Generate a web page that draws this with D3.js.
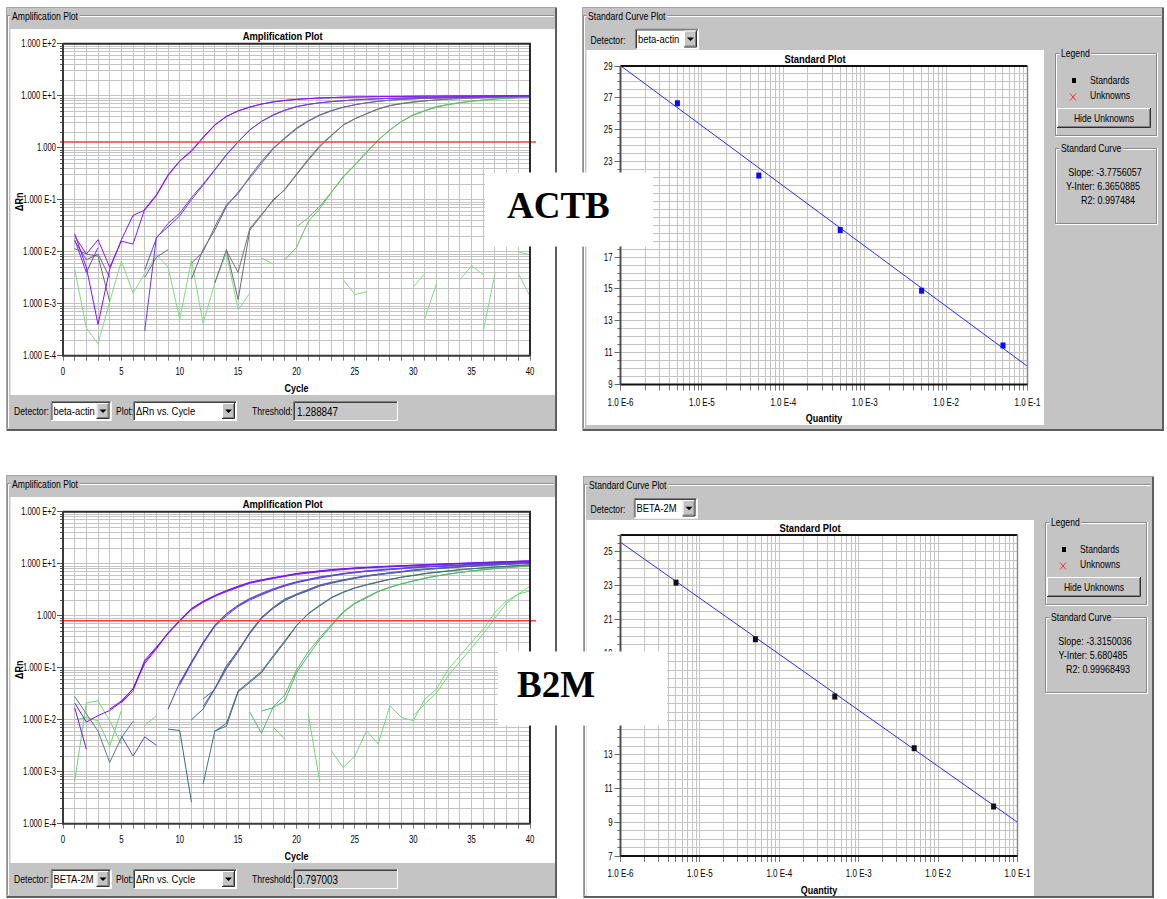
<!DOCTYPE html>
<html>
<head>
<meta charset="utf-8">
<title>ACTB and B2M real-time PCR: amplification plots and standard curves</title>
<script src="https://cdnjs.cloudflare.com/ajax/libs/d3/7.8.5/d3.min.js"></script>
<style>
  html, body { margin: 0; padding: 0; background: #ffffff; }
  svg { display: block; }
  text { font-family: "Liberation Sans", Arial, sans-serif; fill: #000; }
</style>
</head>
<body>
<svg id="figure" width="1167" height="899"></svg>
<script>
const _ = null;

// ---------- axes ----------
const cycleTicks = [0, 5, 10, 15, 20, 25, 30, 35, 40];
const deltaRnDecades = [1e-4, 1e-3, 1e-2, 1e-1, 1, 1e1, 1e2];
const deltaRnLabels = ["1.000 E-4", "1.000 E-3", "1.000 E-2", "1.000 E-1", "1.000", "1.000 E+1", "1.000 E+2"];
const quantityDecades = [1e-6, 1e-5, 1e-4, 1e-3, 1e-2, 1e-1];
const quantityLabels = ["1.0 E-6", "1.0 E-5", "1.0 E-4", "1.0 E-3", "1.0 E-2", "1.0 E-1"];
const actbCtRange = [9, 29];
const actbCtTicks = [9, 11, 13, 15, 17, 19, 21, 23, 25, 27, 29];
const b2mCtRange = [7, 26];
const b2mCtTicks = [7, 9, 11, 13, 15, 17, 19, 21, 23, 25];

// ---------- run settings ----------
const actbDetector = "beta-actin";
const b2mDetector = "BETA-2M";
const actbThreshold = 1.288847;
const b2mThreshold = 0.797003;

// ---------- standard curves ----------
const standardQuantity = [5e-6, 5e-5, 5e-4, 5e-3, 5e-2];
const actbStandardCt = [26.66, 22.12, 18.70, 14.89, 11.45];
const b2mStandardCt = [23.18, 19.83, 16.44, 13.38, 9.93];
const actbSlope = -3.7756057, actbIntercept = 6.3650885, actbR2 = 0.997484;
const b2mSlope = -3.3150036, b2mIntercept = 5.680485, b2mR2 = 0.99968493;

// ---------- ACTB amplification, delta Rn for cycles 1..40 (null = not plotted) ----------
const actbStd1a = [0.022,0.005,0.0004,0.0046,0.017,0.05,0.063,0.12,0.29,0.55,
  0.85,1.55,2.7,4.0,5.1,6.1,6.9,7.6,8.1,8.5,
  8.8,9.0,9.2,9.3,9.4,9.5,9.6,9.6,9.7,9.7,
  9.8,9.8,9.8,9.9,9.9,9.9,9.9,10.0,10.0,10.0];
const actbStd1b = [0.020,0.009,0.017,0.005,0.016,0.014,0.066,0.125,0.30,0.56,
  0.88,1.6,2.75,4.0,5.1,6.0,6.9,7.6,8.1,8.5,
  8.8,9.1,9.2,9.4,9.5,9.5,9.6,9.7,9.7,9.8,
  9.8,9.8,9.9,9.9,9.9,10.0,10.0,10.0,10.1,10.1];
const actbStd2a = [0.017,0.004,0.012,_,_,_,0.0003,0.019,0.03,0.049,
  0.10,0.19,0.37,0.72,1.29,2.2,3.2,4.3,5.3,6.2,
  6.8,7.3,7.7,8.0,8.3,8.5,8.7,8.9,9.0,9.1,
  9.2,9.3,9.4,9.5,9.6,9.6,9.7,9.7,9.8,9.8];
const actbStd2b = [_,_,_,_,_,_,0.0045,0.018,0.035,0.055,
  0.11,0.2,0.38,0.74,1.3,2.2,3.2,4.2,5.2,6.1,
  6.8,7.3,7.7,8.0,8.3,8.5,8.7,8.9,9.0,9.1,
  9.2,9.3,9.4,9.5,9.6,9.6,9.7,9.7,9.8,9.9];
const actbStd3a = [0.016,0.007,0.009,0.0032,_,_,_,_,_,_,
  0.003,0.011,0.026,0.074,0.14,0.26,0.5,0.95,1.5,2.3,
  3.2,4.2,5.1,6.0,6.7,7.3,7.8,8.2,8.5,8.7,
  8.9,9.0,9.2,9.3,9.3,9.4,9.5,9.6,9.7,9.8];
const actbStd3b = [_,_,_,_,_,_,0.0032,0.0078,0.011,_,
  0.006,0.010,0.03,0.08,0.13,0.28,0.55,0.98,1.55,2.4,
  3.3,4.3,5.2,6.0,6.7,7.3,7.8,8.2,8.5,8.7,
  8.9,9.0,9.2,9.3,9.4,9.5,9.6,9.7,9.7,9.8];
const actbStd4a = [0.0115,0.009,0.0082,0.0011,_,_,_,_,_,_,
  _,_,0.0025,0.011,0.0012,0.026,0.05,0.1,0.155,0.3,
  0.57,1.05,1.7,2.75,3.6,4.5,5.6,6.5,7.1,7.6,
  8.0,8.3,8.6,8.8,9.0,9.2,9.3,9.4,9.5,9.6];
const actbStd4b = [_,_,_,_,_,_,_,_,_,_,
  _,_,_,0.0105,0.004,0.028,0.052,0.095,0.16,0.31,
  0.6,1.1,1.75,2.7,3.6,4.5,5.5,6.4,7.0,7.5,
  7.9,8.3,8.6,8.8,9.0,9.2,9.3,9.4,9.5,9.6];
const actbStd5a = [_,_,_,_,_,_,_,_,_,_,
  _,_,_,_,_,_,_,_,0.007,0.012,
  0.038,0.068,0.14,0.28,0.47,0.83,1.41,2.2,3.2,4.3,
  5.2,6.2,6.8,7.4,7.9,8.3,8.7,9.0,9.2,9.4];
const actbStd5b = [_,_,_,_,_,_,_,_,_,_,
  _,_,_,_,_,_,_,_,_,0.03,
  0.045,0.075,0.14,0.27,0.46,0.8,1.4,2.2,3.2,4.2,
  5.1,6.0,6.7,7.3,7.8,8.2,8.6,8.9,9.2,9.4];
const actbNtc1 = [0.0046,0.00034,0.00017,0.0011,0.0066,0.0016,0.0038,0.0087,0.0051,0.0005,
  0.0069,0.00042,0.0025,0.0093,0.00076,0.0016,_,_,_,_,
  _,_,_,_,_,_,_,_,_,_,
  _,_,_,_,_,_,_,_,_,_];
const actbNtc2 = [_,_,_,_,_,_,_,_,_,_,
  _,_,_,_,_,_,0.0076,0.0058,_,_,
  _,_,_,0.0029,0.0015,0.0017,_,_,_,0.0021,
  0.0038,_,_,0.0029,0.0054,0.0036,_,_,0.0038,0.0014];
const actbNtc3 = [_,_,_,_,_,_,_,_,_,_,
  _,_,_,_,_,_,_,_,_,_,
  _,_,_,_,_,_,_,_,_,_,
  0.00052,0.0025,_,_,_,0.0003,0.0038,_,0.01,0.0087];

// ---------- B2M amplification, delta Rn for cycles 1..40 ----------
const b2mStd1a = [0.017,0.0027,_,0.016,0.023,0.039,0.12,0.23,0.46,0.8,
  1.35,1.85,2.4,3.0,3.6,4.3,4.8,5.3,5.8,6.4,
  6.8,7.2,7.6,7.9,8.2,8.4,8.7,8.9,9.1,9.3,
  9.5,9.7,9.9,10.1,10.3,10.5,10.7,10.9,11.1,11.3];
const b2mStd1b = [_,_,_,_,0.021,0.036,0.14,0.25,0.45,0.78,
  1.3,1.8,2.35,2.9,3.5,4.2,4.7,5.2,5.7,6.2,
  6.6,7.0,7.4,7.7,8.0,8.3,8.5,8.7,8.9,9.1,
  9.3,9.5,9.7,9.9,10.1,10.3,10.5,10.7,10.9,11.0];
const b2mStd1c = [0.021,0.009,0.012,0.015,0.022,0.04,0.13,0.24,0.47,0.82,
  1.38,1.9,2.45,3.05,3.7,4.4,4.9,5.4,5.9,6.5,
  6.9,7.3,7.7,8.0,8.3,8.5,8.8,9.0,9.2,9.4,
  9.6,9.8,10.0,10.2,10.4,10.6,10.8,11.0,11.2,11.4];
const b2mStd2a = [_,_,_,_,_,_,_,_,0.016,0.052,
  0.126,0.31,0.64,1.07,1.55,2.1,2.6,3.2,3.8,4.4,
  4.9,5.5,5.9,6.4,6.8,7.2,7.5,7.8,8.1,8.5,
  8.7,8.9,9.1,9.3,9.7,9.9,10.1,10.3,10.5,10.8];
const b2mStd2b = [_,_,_,_,_,_,_,_,_,0.047,
  0.12,0.29,0.62,1.0,1.5,2.0,2.5,3.1,3.7,4.3,
  4.8,5.3,5.8,6.3,6.7,7.1,7.4,7.7,8.0,8.3,
  8.6,8.8,9.0,9.2,9.5,9.7,9.9,10.1,10.3,10.6];
const b2mStd2c = [_,_,_,_,0.0049,0.002,0.0047,0.0032,_,0.05,
  0.13,0.3,0.66,1.1,1.6,2.15,2.7,3.3,3.9,4.5,
  5.0,5.6,6.0,6.5,6.9,7.3,7.6,7.9,8.2,8.6,
  8.8,9.0,9.2,9.4,9.8,10.0,10.2,10.4,10.6,10.9];
const b2mStd3a = [_,_,_,_,_,_,_,_,_,_,
  0.01,0.016,0.039,0.11,0.21,0.48,0.93,1.45,2.1,2.6,
  3.2,3.9,4.4,4.9,5.4,5.9,6.3,6.7,7.1,7.6,
  7.9,8.2,8.5,8.8,9.1,9.4,9.6,9.9,10.1,10.3];
const b2mStd3b = [_,_,_,_,_,_,_,_,_,_,
  _,0.018,0.04,0.1,0.22,0.45,0.9,1.4,2.0,2.5,
  3.1,3.8,4.3,4.8,5.3,5.8,6.2,6.6,7.0,7.5,
  7.8,8.1,8.4,8.7,9.0,9.3,9.5,9.8,10.0,10.2];
const b2mStd3c = [_,_,_,_,_,_,_,_,_,_,
  _,0.025,0.038,0.095,0.2,0.46,0.88,1.38,1.95,2.5,
  3.0,3.7,4.2,4.7,5.2,5.7,6.1,6.5,6.9,7.3,
  7.7,8.0,8.3,8.6,8.9,9.2,9.4,9.7,9.9,10.1];
const b2mStd4a = [_,_,_,_,_,_,_,_,0.0066,0.0062,
  0.00026,_,0.006,0.0076,0.034,0.052,0.08,0.16,0.31,0.64,
  1.08,1.55,2.2,2.8,3.4,3.9,4.4,5.0,5.5,5.9,
  6.4,6.8,7.2,7.6,8.0,8.3,8.6,8.9,9.2,9.5];
const b2mStd4b = [_,_,_,_,_,_,_,_,_,_,
  _,0.00058,0.006,0.0085,0.036,0.055,0.085,0.17,0.33,0.65,
  1.1,1.6,2.25,2.85,3.45,3.95,4.5,5.0,5.5,6.0,
  6.5,6.9,7.3,7.7,8.0,8.3,8.6,8.9,9.2,9.5];
const b2mStd5a = [_,_,_,_,_,_,_,_,_,_,
  _,_,_,_,_,_,0.0147,0.017,0.023,0.08,
  0.17,0.35,0.64,1.15,1.7,2.2,2.9,3.5,4.1,4.6,
  5.2,5.8,6.3,6.8,7.3,7.7,8.1,8.4,8.8,9.1];
const b2mStd5b = [_,_,_,_,_,_,_,_,_,_,
  _,_,_,_,_,0.014,0.0055,0.0175,0.03,0.09,
  0.2,0.38,0.68,1.2,1.75,2.3,2.95,3.55,4.1,4.7,
  5.3,5.8,6.3,6.8,7.2,7.6,8.0,8.4,8.7,9.0];
const b2mStd6a = [_,_,_,_,_,_,_,_,_,_,
  _,_,_,_,_,_,_,_,_,_,
  _,_,_,_,_,_,_,_,_,0.012,
  0.02,0.033,0.07,0.13,0.24,0.45,0.9,1.75,2.6,3.7];
const b2mStd6b = [_,_,_,_,_,_,_,_,_,_,
  _,_,_,_,_,_,_,_,_,_,
  _,_,0.0025,0.0012,0.002,0.0061,0.0034,0.0186,0.011,0.0096,
  0.025,0.039,0.094,0.17,0.31,0.55,1.16,1.94,2.6,3.0];
const b2mNtc1 = [0.00065,0.021,0.023,0.0095,0.0034,_,_,_,_,_,
  _,_,_,_,_,_,_,0.0072,0.0042,_,
  0.013,0.00063,_,_,_,_,_,_,_,_,
  _,_,_,_,_,_,_,_,_,_];
const b2mNtc2 = [0.010,0.011,0.0095,0.0031,0.015,_,0.0077,0.012,_,_,
  _,_,_,_,_,_,_,_,_,_,
  _,_,_,_,_,_,_,_,_,_,
  _,_,_,_,_,_,_,_,_,_];
const b2mNtc3 = [0.028,0.013,0.006,0.0015,0.0045,0.0093,_,_,_,_,
  _,_,_,_,_,_,_,_,_,_,
  _,_,_,_,_,_,_,_,_,_,
  _,_,_,_,_,_,_,_,_,_];

// trace colours, paired with the series above
const actbTraces = [
  [actbNtc1, "#7fdc7f"], [actbNtc2, "#7fdc7f"], [actbNtc3, "#7fdc7f"],
  [actbStd5a, "#5fbf5f"], [actbStd5b, "#5fbf5f"],
  [actbStd4a, "#6c6c78"], [actbStd4b, "#74747e"],
  [actbStd3a, "#6c5c98"], [actbStd3b, "#72649c"],
  [actbStd2a, "#6a3ae6"], [actbStd2b, "#7040e0"],
  [actbStd1a, "#8410ff"], [actbStd1b, "#8a18fa"]
];
const b2mTraces = [
  [b2mNtc1, "#6fd86f"], [b2mNtc2, "#6fd86f"], [b2mNtc3, "#5c7c8c"],
  [b2mStd6a, "#72dc72"], [b2mStd6b, "#72dc72"],
  [b2mStd5a, "#4cb864"], [b2mStd5b, "#52bc6a"],
  [b2mStd4a, "#3f6c74"], [b2mStd4b, "#467478"],
  [b2mStd3a, "#4a58a4"], [b2mStd3b, "#4e5ea8"], [b2mStd3c, "#5460aa"],
  [b2mStd2a, "#5a3ee0"], [b2mStd2b, "#6042de"], [b2mStd2c, "#5c44dc"],
  [b2mStd1a, "#7a14f4"], [b2mStd1b, "#7e1af0"], [b2mStd1c, "#7410f6"]
];

// ================= drawing =================
const svg = d3.select("#figure");
const GRAY = "#c4c4c4";
const GRID = "#c4c4c4";
const NARROW = 0.82;          // horizontal squeeze for the condensed dialog font
const SERIF = '"Liberation Serif", "Times New Roman", serif';
const snap = v => Math.round(v - 0.5) + 0.5;
let clipId = 0;

// white caption boxes laid over the figure (x, y, w, h)
const actbTagBox = [485, 172.5, 168, 74];
const b2mTagBox = [498, 651.5, 169, 74];
const insideBox = (px, py, [bx, by, bw, bh]) => px > bx && px < bx + bw && py - 4 > by && py + 4 < by + bh;

function text(g, x, y, s, o = {}) {
  const sx = o.sx || NARROW;
  const rot = o.rotate != null ? ` rotate(${o.rotate})` : "";
  const t = g.append("text")
    .attr("transform", `translate(${x},${y})${rot} scale(${sx},1)`)
    .text(s)
    .attr("font-size", o.size || 10.5)
    .attr("text-anchor", o.anchor || "start");
  if (o.bold) t.attr("font-weight", "bold");
  if (o.family) t.style("font-family", o.family);
  return t;
}
function path(g, d, color, w = 1) {
  return g.append("path").attr("d", d).attr("fill", "none").attr("stroke", color).attr("stroke-width", w);
}
function sunken(g, x, y, w, h) {
  path(g, `M${x + 0.5},${y + h} V${y + 0.5} H${x + w}`, "#808080");
  path(g, `M${x + 1.5},${y + h - 1} V${y + 1.5} H${x + w - 1}`, "#404040");
  path(g, `M${x + 0.5},${y + h - 0.5} H${x + w - 0.5} V${y}`, "#ffffff");
}
function raised(g, x, y, w, h) {
  path(g, `M${x + 0.5},${y + h} V${y + 0.5} H${x + w}`, "#ffffff");
  path(g, `M${x},${y + h - 0.5} H${x + w - 0.5} V${y}`, "#303030");
  path(g, `M${x + 1},${y + h - 1.5} H${x + w - 1.5} V${y + 1}`, "#808080");
}
function groupLabel(g, x, y, s, size = 10.5) {
  const t = text(g, x, y, s, { size });
  const b = t.node().getBBox();
  g.insert("rect", () => t.node()).attr("x", x + b.x * NARROW - 1.5).attr("y", y + b.y)
    .attr("width", b.width * NARROW + 3).attr("height", b.height).attr("fill", GRAY);
}
function etched(g, x, y, w, h, s) {
  path(g, `M${x + 0.5},${y + 0.5} h${w - 1} v${h - 1} h${-(w - 1)} z`, "#8a8a8a");
  path(g, `M${x + 1.5},${y + h - 1.5} V${y + 1.5} H${x + w - 1.5}`, "#ffffff");
  path(g, `M${x + 0.5},${y + h + 0.5} H${x + w + 0.5} V${y}`, "#ffffff");
  if (s) groupLabel(g, x + 6, y + 4, s);
}
function panel([x, y, w, h], title) {
  const g = svg.append("g");
  g.append("rect").attr("x", x).attr("y", y).attr("width", w).attr("height", h).attr("fill", GRAY);
  path(g, `M${x + 0.5},${y + h} V${y + 0.5} H${x + w}`, "#a4a4a4");
  path(g, `M${x + 1},${y + h - 1} H${x + w - 1} V${y + 1}`, "#5e5e5e", 2);
  path(g, `M${x + 1.5},${y + h - 3} V${y + 8.5} H${x + w - 3}`, "#909090");
  path(g, `M${x + 2.5},${y + h - 3} V${y + 9.5} H${x + w - 3}`, "#ffffff");
  groupLabel(g, x + 6, y + 13, title);
  return g;
}
function whiteArea(g, [x, y, w, h]) {
  g.append("rect").attr("x", x).attr("y", y).attr("width", w).attr("height", h).attr("fill", "#ffffff");
}
function combo(g, [x, y, w, h], s) {
  g.append("rect").attr("x", x).attr("y", y).attr("width", w).attr("height", h).attr("fill", "#ffffff");
  sunken(g, x, y, w, h);
  const bw = 13, bx = x + w - bw - 2;
  g.append("rect").attr("x", bx).attr("y", y + 2).attr("width", bw).attr("height", h - 4).attr("fill", GRAY);
  raised(g, bx, y + 2, bw, h - 4);
  const cx = bx + bw / 2, cy = y + h / 2;
  g.append("path").attr("d", `M${cx - 3.5},${cy - 1.5} h7 l-3.5,3.5 z`).attr("fill", "#000");
  text(g, x + 3, y + h / 2 + 4, s, { size: 11.5 });
}

// ---------- amplification plot ----------
function amplificationPlot(g, box, traces, threshold, whiteMid) {
  const x = d3.scaleLinear().domain([cycleTicks[0], cycleTicks[cycleTicks.length - 1]]).range([box.x0, box.x1]);
  const y = d3.scaleLog().domain([deltaRnDecades[0], deltaRnDecades[deltaRnDecades.length - 1]]).range([box.y1, box.y0]);

  const logGrid = [];
  deltaRnDecades.slice(0, -1).forEach(d => { for (let m = 1; m < 10; m++) logGrid.push(d * m); });
  logGrid.push(deltaRnDecades[deltaRnDecades.length - 1]);
  const cycles = d3.range(cycleTicks[0] + 1, cycleTicks[cycleTicks.length - 1]);

  const grid = g.append("g").attr("stroke", GRID).attr("stroke-width", 1);
  logGrid.forEach(v => {
    const yy = snap(y(v));
    grid.append("line").attr("x1", box.x0).attr("x2", box.x1).attr("y1", yy).attr("y2", yy);
    const major = deltaRnDecades.some(d => Math.abs(d - v) / v < 1e-9);
    g.append("line").attr("x1", box.x0 - (major ? 6 : 3)).attr("x2", box.x0).attr("y1", yy).attr("y2", yy).attr("stroke", "#555");
  });
  cycles.forEach(c => {
    const xx = snap(x(c));
    grid.append("line").attr("x1", xx).attr("x2", xx).attr("y1", box.y0).attr("y2", box.y1);
  });
  d3.range(cycleTicks[0], cycleTicks[cycleTicks.length - 1] + 1).forEach(c => {
    const xx = snap(x(c));
    g.append("line").attr("x1", xx).attr("x2", xx).attr("y1", box.y1).attr("y2", box.y1 + 5).attr("stroke", "#777");
  });

  const id = "amp-clip-" + (clipId++);
  g.append("clipPath").attr("id", id).append("rect")
    .attr("x", box.x0).attr("y", box.y0).attr("width", box.x1 - box.x0).attr("height", box.y1 - box.y0);
  const line = d3.line().defined(d => d.v != null).x(d => x(d.c)).y(d => y(d.v));
  const curves = g.append("g").attr("clip-path", `url(#${id})`);
  traces.forEach(([vals, color]) => {
    curves.append("path").datum(vals.map((v, i) => ({ c: i + 1, v })))
      .attr("d", line).attr("fill", "none").attr("stroke", color).attr("stroke-width", 1);
  });

  const ty = y(threshold);
  g.append("line").attr("x1", box.x0 - 3).attr("x2", box.x1 + 6).attr("y1", ty).attr("y2", ty)
    .attr("stroke", "#ff3c3c").attr("stroke-width", 1.6);

  path(g, `M${box.x0},${box.y0} H${box.x1} V${box.y1}`, "#2a2a2a", 2);
  path(g, `M${box.x0},${box.y0} V${box.y1} H${box.x1}`, "#3a3a3a", 2);

  deltaRnDecades.forEach((d, i) => text(g, box.x0 - 7, y(d) + 3.5, deltaRnLabels[i], { size: 10, sx: 0.76, anchor: "end" }));
  cycleTicks.forEach(c => text(g, x(c), box.y1 + 19.5, String(c), { size: 10, sx: 0.78, anchor: "middle" }));

  text(g, whiteMid, box.y0 - 4, "Amplification Plot", { size: 11.5, bold: true, anchor: "middle" });
  text(g, (box.x0 + box.x1) / 2, box.y1 + 36.5, "Cycle", { size: 11, bold: true, anchor: "middle" });
  text(g, 23, (box.y0 + box.y1) / 2 + 2, "\u0394Rn", { size: 11, bold: true, anchor: "middle", rotate: -90 });
}

function ampControls(g, top, detector, threshold) {
  text(g, 14, top + 14, "Detector:");
  combo(g, [50.5, top, 61, 20], detector);
  text(g, 116, top + 14, "Plot:");
  combo(g, [133, top, 104, 20], "\u0394Rn vs. Cycle");
  text(g, 252, top + 14, "Threshold:");
  g.append("rect").attr("x", 293).attr("y", top).attr("width", 105).attr("height", 20).attr("fill", "#c8c8c8");
  sunken(g, 293, top, 105, 20);
  text(g, 297, top + 14.5, String(threshold), { size: 12 });
}

// ---------- standard curve plot ----------
function standardPlot(g, box, ctRange, ctTicks, ct, slope, intercept, markColor, whiteMid, coverBox) {
  const x = d3.scaleLog().domain([quantityDecades[0], quantityDecades[quantityDecades.length - 1]]).range([box.x0, box.x1]);
  const y = d3.scaleLinear().domain(ctRange).range([box.y1, box.y0]);

  const qGrid = [];
  quantityDecades.slice(0, -1).forEach(d => { for (let m = 1; m < 10; m++) qGrid.push(d * m); });
  qGrid.push(quantityDecades[quantityDecades.length - 1]);
  const ctGrid = d3.range(ctRange[0], ctRange[1] + 0.01, 0.5);

  const grid = g.append("g").attr("stroke", GRID).attr("stroke-width", 1);
  qGrid.forEach(q => {
    const xx = snap(x(q));
    grid.append("line").attr("x1", xx).attr("x2", xx).attr("y1", box.y0).attr("y2", box.y1);
    g.append("line").attr("x1", xx).attr("x2", xx).attr("y1", box.y1).attr("y2", box.y1 + 6).attr("stroke", "#777");
  });
  ctGrid.forEach(v => {
    const yy = snap(y(v));
    grid.append("line").attr("x1", box.x0).attr("x2", box.x1).attr("y1", yy).attr("y2", yy);
    const major = ctTicks.includes(v);
    g.append("line").attr("x1", box.x0 - (major ? 6 : 3)).attr("x2", box.x0).attr("y1", yy).attr("y2", yy).attr("stroke", "#666");
  });

  const id = "std-clip-" + (clipId++);
  g.append("clipPath").attr("id", id).append("rect")
    .attr("x", box.x0).attr("y", box.y0).attr("width", box.x1 - box.x0).attr("height", box.y1 - box.y0);
  const ends = [quantityDecades[0], quantityDecades[quantityDecades.length - 1]];
  g.append("path").attr("clip-path", `url(#${id})`)
    .datum(ends.map(q => [q, slope * Math.log10(q) + intercept]))
    .attr("d", d3.line().x(d => x(d[0])).y(d => y(d[1])))
    .attr("fill", "none").attr("stroke", "#2a2aff").attr("stroke-width", 1);

  g.selectAll(null).data(standardQuantity.map((q, i) => [q, ct[i]])).enter().append("rect")
    .attr("x", d => x(d[0]) - 2.5).attr("y", d => y(d[1]) - 3).attr("width", 5).attr("height", 6)
    .attr("fill", markColor);

  path(g, `M${box.x0},${box.y0} H${box.x1}`, "#111", 2);
  path(g, `M${box.x1},${box.y0} V${box.y1}`, "#888", 1.5);
  path(g, `M${box.x0},${box.y0} V${box.y1}`, "#505050", 2);
  path(g, `M${box.x0},${box.y1} H${box.x1}`, "#111", 2);

  // tick labels that sit wholly under a caption box are not visible, so they are left out
  ctTicks.filter(v => !insideBox(box.x0 - 12, y(v), coverBox))
    .forEach(v => text(g, box.x0 - 8, y(v) + 3.5, String(v), { size: 10, sx: 0.78, anchor: "end" }));
  quantityDecades.forEach((q, i) => text(g, x(q), box.y1 + 21, quantityLabels[i], { size: 10, sx: 0.8, anchor: "middle" }));
  text(g, whiteMid, box.y0 - 3, "Standard Plot", { size: 11.5, bold: true, anchor: "middle" });
  text(g, (box.x0 + box.x1) / 2, box.y1 + 37.5, "Quantity", { size: 11, bold: true, anchor: "middle" });
}

function legendAndFit(g, lx, ly, slope, intercept, r2) {
  etched(g, lx, ly, 102, 83, "Legend");
  g.append("rect").attr("x", lx + 17).attr("y", ly + 25).attr("width", 4).attr("height", 5).attr("fill", "#000");
  text(g, lx + 35, ly + 31, "Standards");
  path(g, `M${lx + 15},${ly + 40.5} l6,7 M${lx + 21},${ly + 40.5} l-6,7`, "#ff3030", 1);
  text(g, lx + 35, ly + 46, "Unknowns");
  g.append("rect").attr("x", lx + 2).attr("y", ly + 55).attr("width", 94).attr("height", 20).attr("fill", GRAY);
  raised(g, lx + 2, ly + 55, 94, 20);
  text(g, lx + 49, ly + 69, "Hide Unknowns", { anchor: "middle" });

  const fy = ly + 95;
  etched(g, lx, fy, 102, 76, "Standard Curve");
  text(g, lx + 50, fy + 28, "Slope: " + slope, { anchor: "middle", sx: 0.86 });
  text(g, lx + 48, fy + 42, "Y-Inter: " + intercept, { anchor: "middle", sx: 0.86 });
  text(g, lx + 53, fy + 56, "R2: " + r2, { anchor: "middle", sx: 0.86 });
}

function geneTag([x, y, w, h], s, tx, ty) {
  svg.append("rect").attr("x", x).attr("y", y).attr("width", w).attr("height", h).attr("fill", "#ffffff");
  text(svg, tx, ty, s, { size: 37, bold: true, family: SERIF, sx: 1 });
}

// ---------- ACTB amplification (top left) ----------
{
  const g = panel([6, 7, 551, 424], "Amplification Plot");
  whiteArea(g, [10.5, 29, 544.5, 366]);
  amplificationPlot(g, { x0: 63, x1: 530, y0: 43.7, y1: 355.7 }, actbTraces, actbThreshold, 282.7);
  ampControls(g, 401, actbDetector, actbThreshold);
}
// ---------- ACTB standard curve (top right) ----------
{
  const g = panel([582, 7, 582, 424], "Standard Curve Plot");
  text(g, 590.5, 44, "Detector:");
  combo(g, [635, 28.5, 64, 21], actbDetector);
  whiteArea(g, [586.5, 50, 457.5, 375]);
  standardPlot(g, { x0: 620.5, x1: 1027.5, y0: 66, y1: 384.5 }, actbCtRange, actbCtTicks, actbStandardCt,
    actbSlope, actbIntercept, "#0a0aff", 815, actbTagBox);
  legendAndFit(g, 1055, 53, actbSlope, actbIntercept, actbR2);
}
// ---------- B2M amplification (bottom left) ----------
{
  const g = panel([6, 475, 551, 423], "Amplification Plot");
  whiteArea(g, [10.5, 497, 544.5, 366]);
  amplificationPlot(g, { x0: 63, x1: 530, y0: 511.7, y1: 823.7 }, b2mTraces, b2mThreshold, 282.7);
  ampControls(g, 869, b2mDetector, b2mThreshold);
}
// ---------- B2M standard curve (bottom right) ----------
{
  const g = panel([583, 476, 571, 422], "Standard Curve Plot");
  text(g, 590.5, 512.5, "Detector:");
  combo(g, [633.5, 498, 64, 20.5], b2mDetector);
  whiteArea(g, [586.5, 520, 447.5, 376]);
  standardPlot(g, { x0: 620.5, x1: 1017.5, y0: 535, y1: 856 }, b2mCtRange, b2mCtTicks, b2mStandardCt,
    b2mSlope, b2mIntercept, "#111111", 810, b2mTagBox);
  legendAndFit(g, 1045, 522, b2mSlope, b2mIntercept, b2mR2);
}

// gene labels
geneTag(actbTagBox, "ACTB", 507, 218);
geneTag(b2mTagBox, "B2M", 517, 697);
</script>
</body>
</html>
